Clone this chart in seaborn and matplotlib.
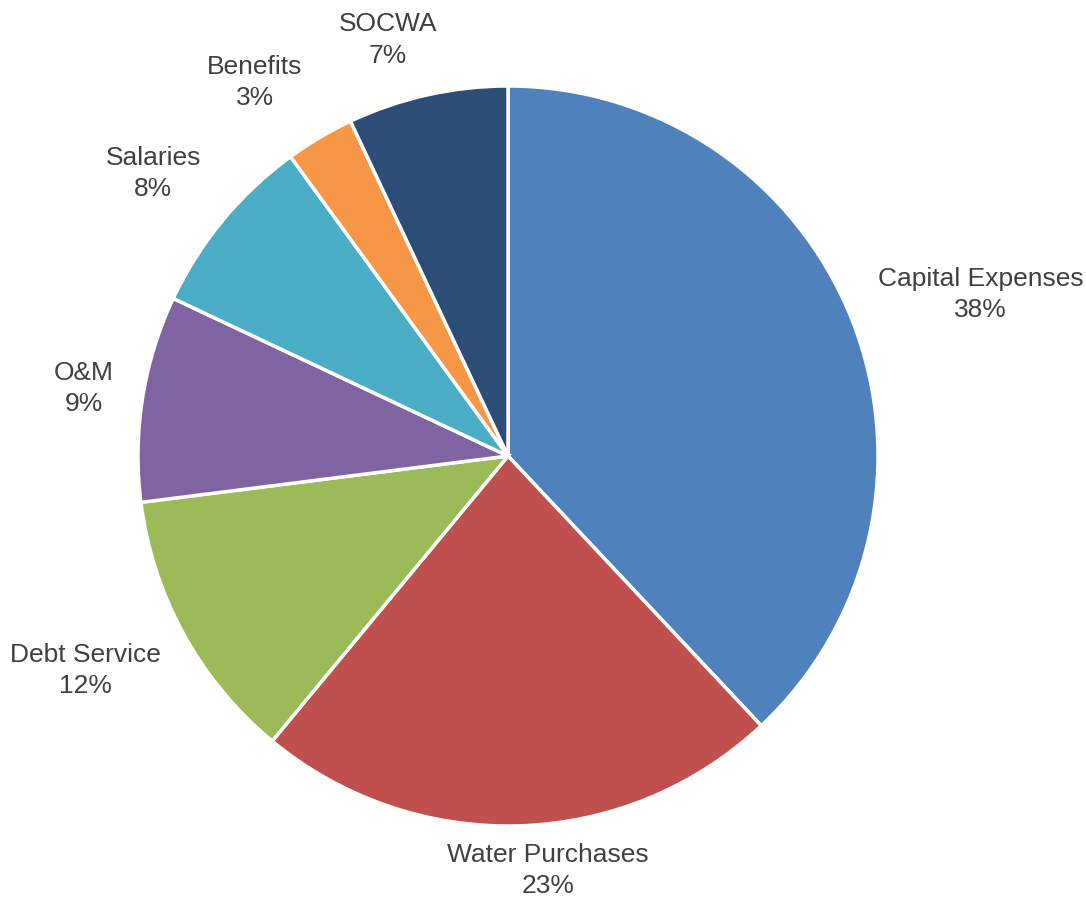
import numpy as np
import matplotlib.pyplot as plt
import seaborn as sns

categories = ["Capital Expenses", "Water Purchases", "Debt Service", "O&M",
              "Salaries", "Benefits", "SOCWA"]
shares = [38, 23, 12, 9, 8, 3, 7]
colors = ["#4F81BD", "#C0504D", "#9BBB59", "#8064A2", "#4BACC6", "#F79646", "#2C4D75"]
# label placement, like Excel's outside-end labels: distance (in radii) and angle nudge
label_dist = [1.35, 1.125, 1.28, 1.16, 1.225, 1.22, 1.17]
label_turn = [-2.7, 3.7, -1.9, 0.0, 1.1, 3.5, 3.5]

sns.set_theme(style="white")
plt.rcParams['font.family'] = ['Liberation Sans Narrow', 'Liberation Sans', 'DejaVu Sans']

fig = plt.figure(figsize=(10.86, 9.05), dpi=100)
ax = fig.add_axes([0, 0, 1, 1])

cx, cy, r = 508, 449, 370
wedges, _ = ax.pie(shares, colors=colors, startangle=90, counterclock=False,
                   center=(cx, cy), radius=r, frame=True,
                   wedgeprops=dict(edgecolor='white', linewidth=2.5))
ax.set_xlim(0, 1086)
ax.set_ylim(0, 905)
ax.set_aspect('equal')
ax.axis('off')

for w, name, val, d, t in zip(wedges, categories, shares, label_dist, label_turn):
    mid = np.deg2rad((w.theta1 + w.theta2) / 2 + t)
    x = cx + d * r * np.cos(mid)
    y = cy + d * r * np.sin(mid)
    ax.text(x, y, f"{name}\n{val}%", ha='center', va='center',
            fontsize=19, color='#404040', linespacing=1.38)

fig.savefig("out.png", dpi=100)
